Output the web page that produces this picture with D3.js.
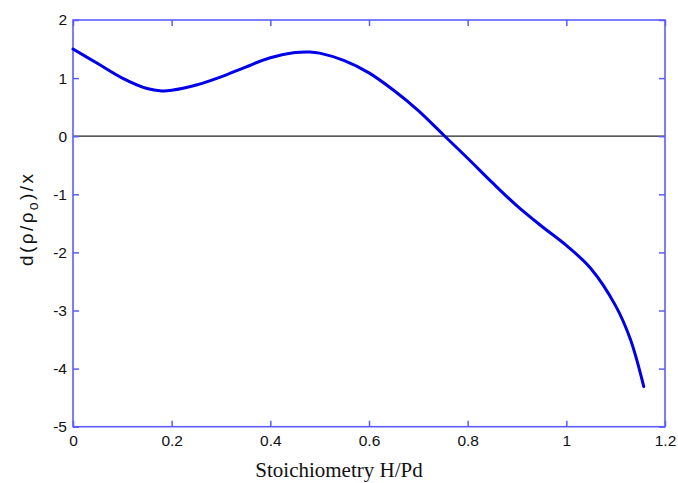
<!DOCTYPE html>
<html>
<head>
<meta charset="utf-8">
<script src="https://cdn.jsdelivr.net/npm/d3@7"></script>
<style>
  html, body { margin: 0; padding: 0; background: #fff; }
  svg { display: block; }
</style>
</head>
<body>
<svg id="chart"></svg>
<script>
// values
const stoich = [0, 0.05, 0.10, 0.15, 0.18, 0.20, 0.25, 0.30, 0.35, 0.40, 0.45, 0.48, 0.50, 0.55, 0.60, 0.65, 0.70, 0.75, 0.80, 0.85, 0.90, 0.95, 1.00, 1.05, 1.10, 1.13, 1.157];
const deriv = [1.50, 1.25, 1.00, 0.82, 0.78, 0.79, 0.88, 1.02, 1.19, 1.35, 1.44, 1.45, 1.43, 1.30, 1.09, 0.79, 0.44, 0.03, -0.38, -0.80, -1.20, -1.55, -1.88, -2.28, -2.92, -3.50, -4.31];
const xTicks = [0, 0.2, 0.4, 0.6, 0.8, 1, 1.2];
const yTicks = [2, 1, 0, -1, -2, -3, -4, -5];

const width = 678;
const height = 483;
const margin = { top: 20, right: 13, bottom: 56.3, left: 73 };
const frameColor = "#5c5cff";

const svg = d3.select("#chart")
    .attr("width", width)
    .attr("height", height);

const x = d3.scaleLinear().domain([0, 1.2]).range([margin.left, width - margin.right]);
const y = d3.scaleLinear().domain([-5, 2]).range([height - margin.bottom, margin.top]);

// zero line
svg.append("line")
    .attr("x1", x(0)).attr("x2", x(1.2))
    .attr("y1", y(0)).attr("y2", y(0))
    .attr("stroke", "#222")
    .attr("stroke-width", 1.2);

// axes, ticks pointing inward
const fmt = d => String(d);
const tickFont = "Liberation Sans, Arial, sans-serif";

const gBottom = svg.append("g")
    .attr("transform", `translate(0,${y(-5)})`)
    .call(d3.axisBottom(x).tickValues(xTicks).tickSize(-6).tickPadding(8).tickFormat(fmt));
const gTop = svg.append("g")
    .attr("transform", `translate(0,${y(2)})`)
    .call(d3.axisTop(x).tickValues(xTicks).tickSize(-6).tickFormat(""));
const gLeft = svg.append("g")
    .attr("transform", `translate(${x(0)},0)`)
    .call(d3.axisLeft(y).tickValues(yTicks).tickSize(-6).tickPadding(6).tickFormat(fmt));
const gRight = svg.append("g")
    .attr("transform", `translate(${x(1.2)},0)`)
    .call(d3.axisRight(y).tickValues(yTicks).tickSize(-6).tickFormat(""));

[gBottom, gTop, gLeft, gRight].forEach(g => {
    g.select(".domain").remove();
    g.selectAll(".tick line").attr("stroke", frameColor).attr("stroke-width", 1.5);
    g.selectAll(".tick text")
        .attr("fill", "#111")
        .style("font-family", tickFont)
        .style("font-size", "15.5px");
});

// frame
svg.append("rect")
    .attr("x", x(0)).attr("y", y(2))
    .attr("width", x(1.2) - x(0))
    .attr("height", y(-5) - y(2))
    .attr("fill", "none")
    .attr("stroke", frameColor)
    .attr("stroke-width", 1.6);

// curve
const line = d3.line()
    .x((d, i) => x(stoich[i]))
    .y(d => y(d))
    .curve(d3.curveCatmullRom);

svg.append("path")
    .datum(deriv)
    .attr("d", line)
    .attr("fill", "none")
    .attr("stroke", "#0000e8")
    .attr("stroke-width", 3)
    .attr("stroke-linecap", "round");

// x axis title
svg.append("text")
    .attr("x", 339)
    .attr("y", 477)
    .attr("text-anchor", "middle")
    .style("font-family", "Liberation Serif, Times New Roman, serif")
    .style("font-size", "21px")
    .attr("fill", "#111")
    .text("Stoichiometry H/Pd");

// y axis title
const yTitle = svg.append("text")
    .attr("transform", "translate(33,220) rotate(-90)")
    .attr("text-anchor", "middle")
    .attr("textLength", 92)
    .attr("lengthAdjust", "spacing")
    .style("font-family", "Liberation Sans, Arial, sans-serif")
    .style("font-size", "19px")
    .attr("fill", "#111");
yTitle.append("tspan").text("d(ρ/ρ");
yTitle.append("tspan").attr("dy", 5).style("font-size", "14px").text("o");
yTitle.append("tspan").attr("dy", -5).text(")/x");
</script>
</body>
</html>
